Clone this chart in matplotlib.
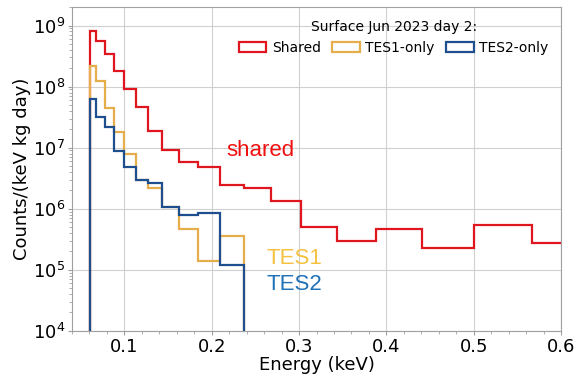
"""
Spektren der Surface-Messung (Jun 2023, Tag 2) als Step-Histogramme.
"""

import numpy as np
import matplotlib
matplotlib.use("Agg")
import matplotlib.pyplot as plt
from matplotlib.ticker import MultipleLocator


# Bin-Kanten (keV); letzter Bin ragt ueber 0.6 hinaus
edges_shared = [0.0608, 0.0677, 0.078, 0.0882, 0.1, 0.113, 0.1275, 0.1434,
                0.163, 0.1847, 0.21, 0.2374, 0.2677, 0.3024, 0.3437, 0.3886,
                0.4405, 0.5, 0.5665, 0.64]
edges_only = edges_shared[:12]

# Raten in Counts/(keV kg day)
shared = [8.0e8, 5.5e8, 3.4e8, 1.8e8, 9.0e7, 4.7e7, 1.9e7, 9.2e6, 5.9e6,
          4.9e6, 2.45e6, 2.17e6, 1.33e6, 5.0e5, 2.95e5, 4.6e5, 2.3e5,
          5.5e5, 2.7e5]
tes1_only = [2.2e8, 1.22e8, 4.4e7, 1.8e7, 7.8e6, 2.95e6, 2.2e6, 1.07e6,
             4.65e5, 1.38e5, 3.6e5]
tes2_only = [6.2e7, 3.2e7, 2.2e7, 8.9e6, 4.9e6, 2.95e6, 2.6e6, 1.07e6,
             7.9e5, 8.4e5, 1.22e5]

RED = "#e0161f"
ORANGE = "#e6ad4b"
BLUE = "#1d4f8e"

fig, ax = plt.subplots(figsize=(5.76, 3.76), dpi=100)
fig.subplots_adjust(left=0.125, right=0.974, top=0.981, bottom=0.12)

ax.set_yscale("log")
for edges, vals, col, lab in [(edges_shared, shared, RED, "Shared"),
                              (edges_only, tes1_only, ORANGE, "TES1-only"),
                              (edges_only, tes2_only, BLUE, "TES2-only")]:
    ax.hist(edges[:-1], bins=edges, weights=vals, histtype="step",
            color=col, lw=1.6, label=lab)

ax.set_xlim(0.04, 0.6)
ax.set_ylim(1e4, 2e9)
ax.xaxis.set_minor_locator(MultipleLocator(0.02))
ax.grid(True, which="major", color="#d0d0d0", lw=0.8)
ax.set_axisbelow(True)
for sp in ax.spines.values():
    sp.set_color("#a0a0a0")
ax.tick_params(which="both", colors="#a0a0a0", labelcolor="black",
               labelsize=13, pad=2)
ax.tick_params(which="major", length=3)
ax.tick_params(which="minor", length=2)

ax.set_xlabel("Energy (keV)", fontsize=13, labelpad=0)
ax.set_ylabel("Counts/(keV kg day)", fontsize=13, labelpad=1)

txt = dict(family=["Liberation Sans", "DejaVu Sans"], fontsize=16)
ax.text(0.217, 7.4e6, "shared", color="#f01010", **txt)
ax.text(0.2627, 1.26e5, "TES1", color="#f5c140", **txt)
ax.text(0.2627, 4.6e4, "TES2", color="#1f72b8", **txt)

leg = ax.legend(loc="upper right", ncol=3, frameon=False, fontsize=10,
                title="Surface Jun 2023 day 2:", title_fontsize=10,
                handletextpad=0.4, columnspacing=0.8,
                borderaxespad=0.5)

fig.savefig("out.png", dpi=100)
